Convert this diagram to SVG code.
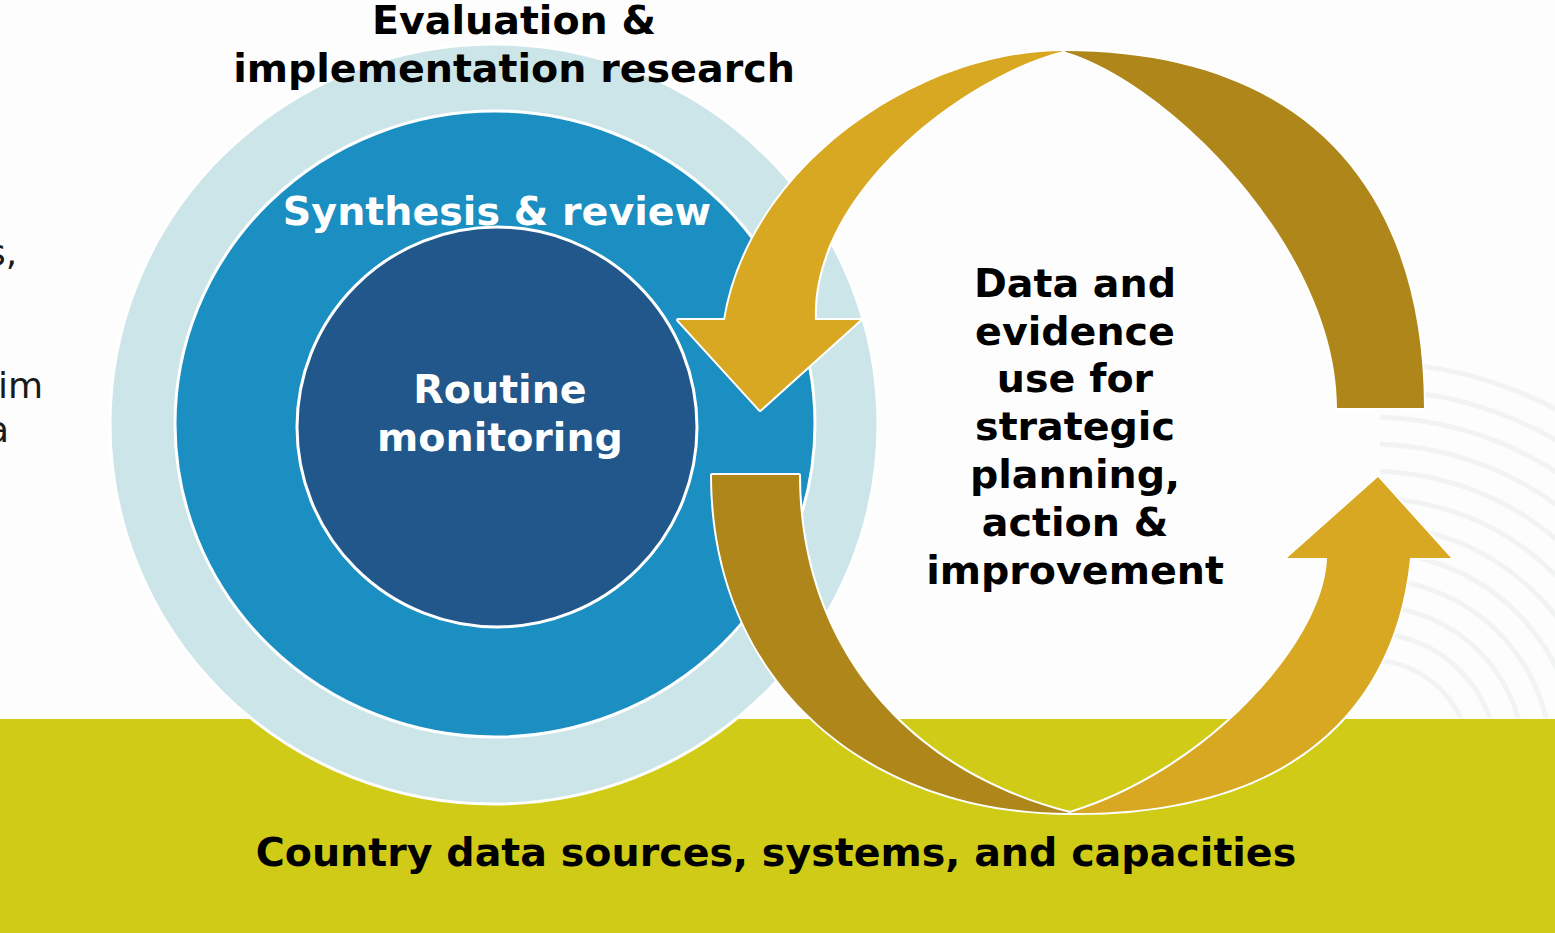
<svg xmlns="http://www.w3.org/2000/svg" width="1555" height="933" viewBox="0 0 1555 933">
  <defs>
    <style>
      .t { font-family: "DejaVu Sans", Verdana, sans-serif; font-weight: bold; font-size: 39.6px; text-anchor: middle; }
      .dark { fill: #000000; }
      .light { fill: #ffffff; }
      .frag { font-family: "DejaVu Sans", Verdana, sans-serif; font-size: 36px; fill: #1a1a1a; }
      .ring { stroke: #ffffff; stroke-width: 3; }
      .arrowA { fill: #d8a823; stroke: #ffffff; stroke-width: 4; stroke-linejoin: round; paint-order: stroke fill; }
      .arrowB { fill: #ae861a; stroke: #ffffff; stroke-width: 4; stroke-linejoin: round; paint-order: stroke fill; }
      .deco { fill: none; stroke: #f2f4f4; stroke-width: 5; }
    </style>
    <clipPath id="decoClip">
      <rect x="1380" y="360" width="175" height="358"/>
    </clipPath>
  </defs>

  <rect x="0" y="0" width="1555" height="933" fill="#fdfdfd"/>

  <!-- faint decorative arcs -->
  <g clip-path="url(#decoClip)">
    <circle class="deco" cx="1370" cy="760" r="100"/>
    <circle class="deco" cx="1370" cy="760" r="127"/>
    <circle class="deco" cx="1370" cy="760" r="154"/>
    <circle class="deco" cx="1370" cy="760" r="181"/>
    <circle class="deco" cx="1370" cy="760" r="208"/>
    <circle class="deco" cx="1370" cy="760" r="235"/>
    <circle class="deco" cx="1370" cy="760" r="262"/>
    <circle class="deco" cx="1370" cy="760" r="289"/>
    <circle class="deco" cx="1370" cy="760" r="316"/>
    <circle class="deco" cx="1370" cy="760" r="343"/>
    <circle class="deco" cx="1370" cy="760" r="370"/>
    <circle class="deco" cx="1370" cy="760" r="397"/>
  </g>

  <!-- left text fragments (cut at the edge, as in the source) -->
  <text class="frag" x="-13" y="265">s,</text>
  <text class="frag" x="-2" y="398">im</text>
  <text class="frag" x="-13" y="442">a</text>

  <!-- base band -->
  <g id="base">
    <rect x="0" y="719" width="1555" height="214" fill="#d0cb16"/>
  </g>

  <!-- concentric circles -->
  <g id="evaluation">
    <ellipse class="ring" cx="494" cy="424" rx="384" ry="380" fill="#cbe5e8"/>
  </g>
  <g id="synthesis">
    <ellipse class="ring" cx="495" cy="424" rx="320" ry="313" fill="#1b8fc1"/>
  </g>
  <g id="routine">
    <ellipse class="ring" cx="497" cy="427" rx="200" ry="200" fill="#22578b"/>
  </g>

  <!-- cycle arrows -->
  <g id="connectors">
    <path class="arrowB" d="M1063,51 C1315,51 1424,200 1424,408 L1337,408 C1337,250 1170,82 1063,51 Z"/>
    <path class="arrowA" d="M1063,51 C920,51 750,165 725,320 L678,320 L760,410 L860,320 L815,320 C810,195 960,78 1063,51 Z"/>
    <path class="arrowB" d="M712,475 L799,475 C799,640 900,770 1070,813 C865,813 712,680 712,475 Z"/>
    <path class="arrowA" d="M1070,813 C1210,770 1325,640 1327,558 L1287,558 L1378,477 L1451,558 L1410,558 C1395,710 1290,815 1070,813 Z"/>
  </g>

  <!-- labels -->
  <g id="label-evaluation">
    <text class="t dark" x="514" y="34">Evaluation &amp;</text>
    <text class="t dark" x="514" y="82">implementation research</text>
  </g>
  <g id="label-synthesis">
    <text class="t light" x="497" y="225">Synthesis &amp; review</text>
  </g>
  <g id="label-routine">
    <text class="t light" x="500" y="403">Routine</text>
    <text class="t light" x="500" y="451">monitoring</text>
  </g>
  <g id="label-data">
    <text class="t dark" x="1075" y="297">Data and</text>
    <text class="t dark" x="1075" y="345">evidence</text>
    <text class="t dark" x="1075" y="392">use for</text>
    <text class="t dark" x="1075" y="440">strategic</text>
    <text class="t dark" x="1075" y="488">planning,</text>
    <text class="t dark" x="1075" y="536">action &amp;</text>
    <text class="t dark" x="1075" y="584">improvement</text>
  </g>
  <g id="label-country">
    <text class="t dark" x="776" y="866">Country data sources, systems, and capacities</text>
  </g>
</svg>
